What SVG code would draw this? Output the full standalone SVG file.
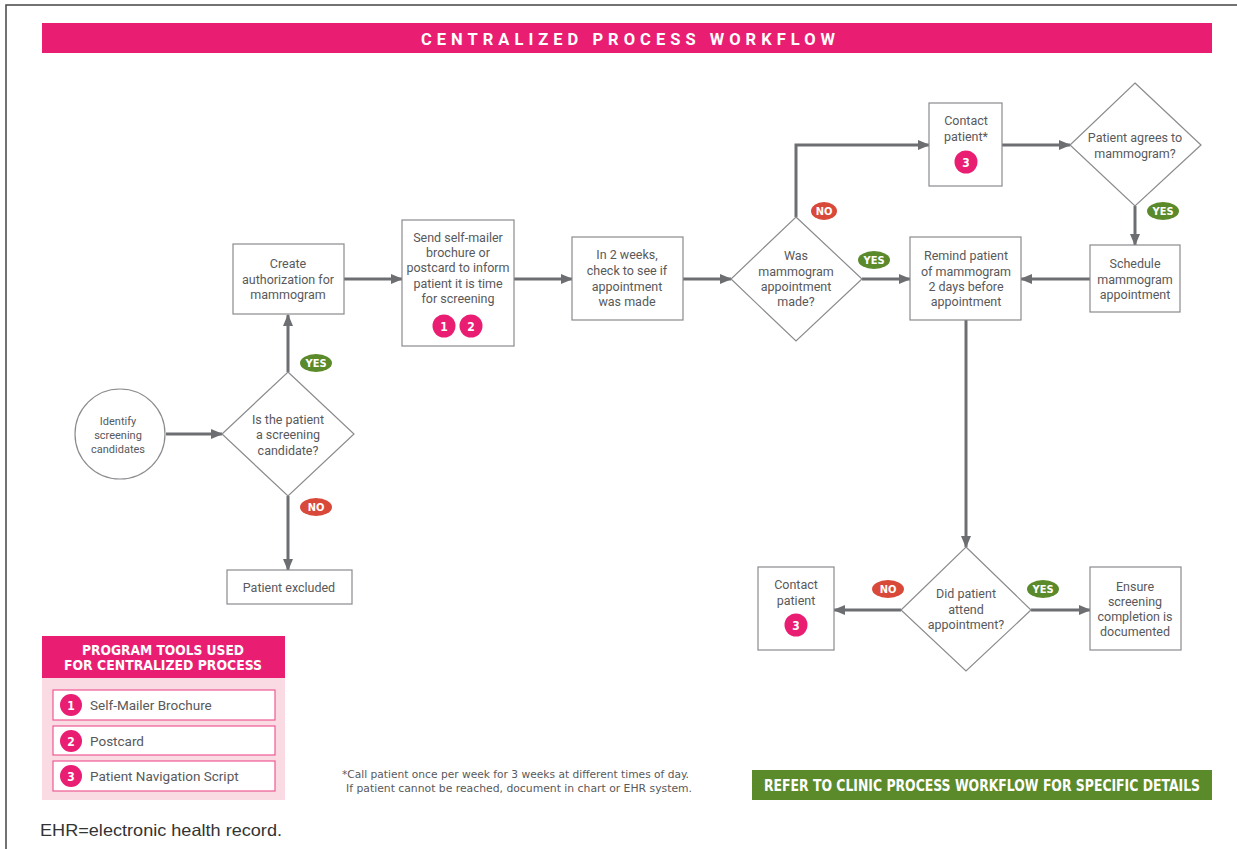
<svg xmlns="http://www.w3.org/2000/svg" width="1237" height="849" viewBox="0 0 1237 849">
<defs>
<marker id="arr" markerUnits="userSpaceOnUse" markerWidth="12" markerHeight="12" viewBox="0 0 12 12" refX="11" refY="6" orient="auto">
<path d="M0,1 L12,6 L0,11 Z" fill="#6d6e71"/>
</marker>
<style>
.box{fill:#fff;stroke:#8a8b8e;stroke-width:1.2}
.t{font-family:Roboto,"Liberation Sans",sans-serif;font-size:12.5px;fill:#58595b;text-anchor:middle}
.ts{font-family:Roboto,"Liberation Sans",sans-serif;font-size:11px;fill:#58595b;text-anchor:middle}
.c{stroke:#6d6e71;stroke-width:3;fill:none;marker-end:url(#arr)}
.bd{fill:#e91e73}
.bt{font-family:"DejaVu Sans Condensed","DejaVu Sans",sans-serif;font-weight:bold;font-size:12px;fill:#fff;text-anchor:middle}
.yes{fill:#5b8a2a}
.no{fill:#d9493a}
.lt{font-family:"DejaVu Sans Condensed","DejaVu Sans",sans-serif;font-weight:bold;font-size:11px;fill:#fff;text-anchor:middle}
.item{fill:#fff;stroke:#ee5a93;stroke-width:1.2}
.it{font-family:Roboto,"Liberation Sans",sans-serif;font-size:13.5px;fill:#58595b}
</style>
</defs>
<rect width="1237" height="849" fill="#fff"/>
<path d="M6,849 V5 H1237" fill="none" stroke="#444" stroke-width="1.5"/>

<g id="title">
<rect x="42" y="23" width="1170" height="30" fill="#e91e73"/>
<text x="421" y="45" font-family="Roboto,'Liberation Sans',sans-serif" font-weight="bold" font-size="16.5" fill="#fff" textLength="414" lengthAdjust="spacing">CENTRALIZED PROCESS WORKFLOW</text>
</g>

<g id="connectors">
<line class="c" x1="166" y1="434" x2="222" y2="434"/>
<line class="c" x1="288" y1="372" x2="288" y2="315"/>
<line class="c" x1="288" y1="496" x2="288" y2="570"/>
<line class="c" x1="344" y1="279" x2="402" y2="279"/>
<line class="c" x1="514" y1="279" x2="572" y2="279"/>
<line class="c" x1="683" y1="279" x2="731" y2="279"/>
<line class="c" x1="862" y1="279" x2="910" y2="279"/>
<polyline class="c" points="796,217 796,145 929,145"/>
<line class="c" x1="1002" y1="145" x2="1070" y2="145"/>
<line class="c" x1="1135" y1="206" x2="1135" y2="245"/>
<line class="c" x1="1090" y1="279" x2="1021" y2="279"/>
<line class="c" x1="966" y1="320" x2="966" y2="547"/>
<line class="c" x1="901" y1="610" x2="834" y2="610"/>
<line class="c" x1="1031" y1="610" x2="1090" y2="610"/>
</g>

<g id="labels">
<ellipse class="yes" cx="316" cy="363" rx="16" ry="9"/><text class="lt" x="316" y="367">YES</text>
<ellipse class="no" cx="316" cy="507" rx="16" ry="9"/><text class="lt" x="316" y="511">NO</text>
<ellipse class="no" cx="824" cy="211" rx="13" ry="9"/><text class="lt" x="824" y="215">NO</text>
<ellipse class="yes" cx="874" cy="260" rx="16" ry="9"/><text class="lt" x="874" y="264">YES</text>
<ellipse class="yes" cx="1163" cy="211" rx="16" ry="9"/><text class="lt" x="1163" y="215">YES</text>
<ellipse class="no" cx="888" cy="589" rx="16" ry="9"/><text class="lt" x="888" y="593">NO</text>
<ellipse class="yes" cx="1043" cy="589" rx="16" ry="9"/><text class="lt" x="1043" y="593">YES</text>
</g>

<g id="identify">
<circle cx="120" cy="434" r="45" class="box"/>
<text class="ts" x="118" y="425">Identify</text>
<text class="ts" x="118" y="439">screening</text>
<text class="ts" x="118" y="453">candidates</text>
</g>

<g id="is-candidate">
<polygon class="box" points="288,372 354,434 288,496 222,434"/>
<text class="t" x="288" y="424">Is the patient</text>
<text class="t" x="288" y="439">a screening</text>
<text class="t" x="288" y="455">candidate?</text>
</g>

<g id="create-auth">
<rect class="box" x="233" y="244" width="111" height="70"/>
<text class="t" x="288" y="268">Create</text>
<text class="t" x="288" y="284">authorization for</text>
<text class="t" x="288" y="299">mammogram</text>
</g>

<g id="excluded">
<rect class="box" x="227" y="570" width="125" height="34"/>
<text class="t" x="289" y="592">Patient excluded</text>
</g>

<g id="send">
<rect class="box" x="402" y="220" width="112" height="126"/>
<text class="t" x="458" y="242">Send self-mailer</text>
<text class="t" x="458" y="257">brochure or</text>
<text class="t" x="458" y="272">postcard to inform</text>
<text class="t" x="458" y="288">patient it is time</text>
<text class="t" x="458" y="303">for screening</text>
<circle class="bd" cx="444" cy="326" r="11.5"/><text class="bt" x="444" y="331">1</text>
<circle class="bd" cx="471" cy="326" r="11.5"/><text class="bt" x="471" y="331">2</text>
</g>

<g id="check">
<rect class="box" x="572" y="237" width="111" height="83"/>
<text class="t" x="627" y="259">In 2 weeks,</text>
<text class="t" x="627" y="275">check to see if</text>
<text class="t" x="627" y="291">appointment</text>
<text class="t" x="627" y="306">was made</text>
</g>

<g id="was-made">
<polygon class="box" points="796,217 862,279 796,341 731,279"/>
<text class="t" x="796" y="260">Was</text>
<text class="t" x="796" y="276">mammogram</text>
<text class="t" x="796" y="291">appointment</text>
<text class="t" x="796" y="306">made?</text>
</g>

<g id="contact1">
<rect class="box" x="929" y="103" width="73" height="83"/>
<text class="t" x="966" y="125">Contact</text>
<text class="t" x="966" y="141">patient*</text>
<circle class="bd" cx="966" cy="162" r="11.5"/><text class="bt" x="966" y="167">3</text>
</g>

<g id="agrees">
<polygon class="box" points="1135,83 1201,145 1135,206 1070,145"/>
<text class="t" x="1135" y="142">Patient agrees to</text>
<text class="t" x="1135" y="158">mammogram?</text>
</g>

<g id="schedule">
<rect class="box" x="1090" y="245" width="90" height="67"/>
<text class="t" x="1135" y="268">Schedule</text>
<text class="t" x="1135" y="284">mammogram</text>
<text class="t" x="1135" y="299">appointment</text>
</g>

<g id="remind">
<rect class="box" x="910" y="237" width="111" height="83"/>
<text class="t" x="966" y="260">Remind patient</text>
<text class="t" x="966" y="276">of mammogram</text>
<text class="t" x="966" y="291">2 days before</text>
<text class="t" x="966" y="306">appointment</text>
</g>

<g id="attend">
<polygon class="box" points="966,547 1031,610 966,671 901,610"/>
<text class="t" x="966" y="598">Did patient</text>
<text class="t" x="966" y="614">attend</text>
<text class="t" x="966" y="629">appointment?</text>
</g>

<g id="contact2">
<rect class="box" x="758" y="567" width="76" height="83"/>
<text class="t" x="796" y="589">Contact</text>
<text class="t" x="796" y="605">patient</text>
<circle class="bd" cx="796" cy="625" r="11.5"/><text class="bt" x="796" y="630">3</text>
</g>

<g id="ensure">
<rect class="box" x="1090" y="567" width="91" height="83"/>
<text class="t" x="1135" y="591">Ensure</text>
<text class="t" x="1135" y="606">screening</text>
<text class="t" x="1135" y="621">completion is</text>
<text class="t" x="1135" y="636">documented</text>
</g>

<g id="legend">
<rect x="42" y="636" width="243" height="42" fill="#e91e73"/>
<rect x="42" y="678" width="243" height="122" fill="#fadbe4"/>
<text x="163" y="655" font-family="'DejaVu Sans Condensed','DejaVu Sans',sans-serif" font-weight="bold" font-size="14" fill="#fff" text-anchor="middle" textLength="162" lengthAdjust="spacingAndGlyphs">PROGRAM TOOLS USED</text>
<text x="163" y="670" font-family="'DejaVu Sans Condensed','DejaVu Sans',sans-serif" font-weight="bold" font-size="14" fill="#fff" text-anchor="middle" textLength="198" lengthAdjust="spacingAndGlyphs">FOR CENTRALIZED PROCESS</text>
<rect class="item" x="53" y="690" width="222" height="30"/>
<rect class="item" x="53" y="726" width="222" height="29"/>
<rect class="item" x="53" y="761" width="222" height="30"/>
<circle class="bd" cx="71" cy="705" r="11"/><text class="bt" x="71" y="710">1</text>
<circle class="bd" cx="71" cy="741" r="11"/><text class="bt" x="71" y="746">2</text>
<circle class="bd" cx="71" cy="776" r="11"/><text class="bt" x="71" y="781">3</text>
<text class="it" x="90" y="710">Self-Mailer Brochure</text>
<text class="it" x="90" y="746">Postcard</text>
<text class="it" x="90" y="781">Patient Navigation Script</text>
</g>

<g id="footnote">
<text x="342" y="778" font-family="'DejaVu Sans Condensed','DejaVu Sans',sans-serif" font-size="10.5" fill="#58595b" textLength="347" lengthAdjust="spacingAndGlyphs">*Call patient once per week for 3 weeks at different times of day.</text>
<text x="346" y="792" font-family="'DejaVu Sans Condensed','DejaVu Sans',sans-serif" font-size="10.5" fill="#58595b" textLength="346" lengthAdjust="spacingAndGlyphs">If patient cannot be reached, document in chart or EHR system.</text>
</g>

<g id="refer">
<rect x="752" y="770" width="460" height="30" fill="#5b8a2a"/>
<text x="982" y="791" font-family="'DejaVu Sans Condensed','DejaVu Sans',sans-serif" font-weight="bold" font-size="15" fill="#fff" text-anchor="middle" textLength="436" lengthAdjust="spacingAndGlyphs">REFER TO CLINIC PROCESS WORKFLOW FOR SPECIFIC DETAILS</text>
</g>

<text x="40" y="836" font-family="'Liberation Sans',Arial,sans-serif" font-size="16.5" fill="#333" textLength="242" lengthAdjust="spacingAndGlyphs">EHR=electronic health record.</text>
</svg>
